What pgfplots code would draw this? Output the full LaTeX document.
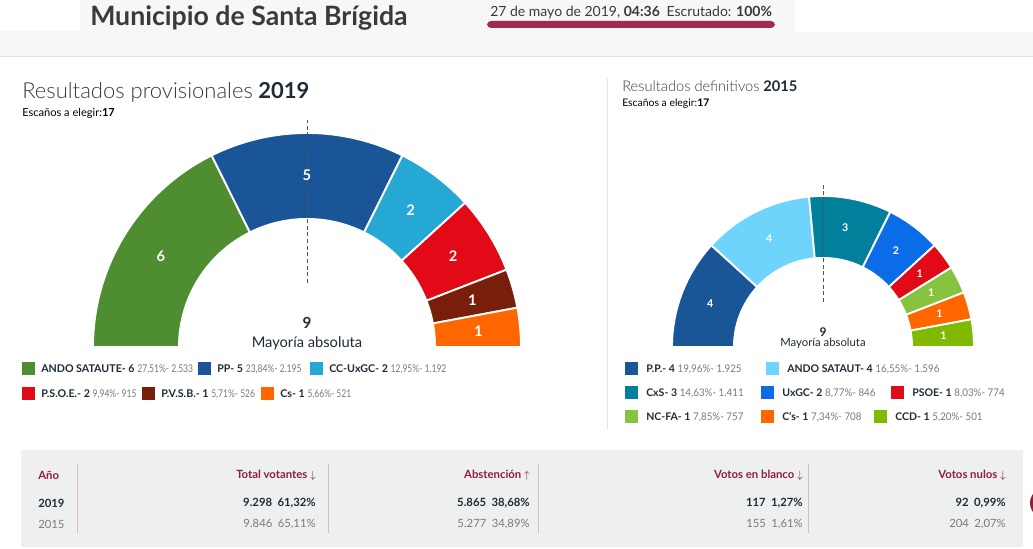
\documentclass[border=0pt]{standalone}
\usepackage{pgfplots}
\pgfplotsset{compat=1.18}
\usepackage{fontspec}
\setmainfont{Lato}
\newfontfamily\lightfont{Lato Light}

\definecolor{hdrbg}{HTML}{F7F7F7}
\definecolor{titlecol}{HTML}{3A3A3A}
\definecolor{barred}{HTML}{A32A4E}
\definecolor{maroon}{HTML}{8E1F3E}
\definecolor{navy}{HTML}{1E2B38}
\definecolor{leggray}{HTML}{7A7A7A}
\definecolor{tblbg}{HTML}{EEF0EF}
\definecolor{sepcol}{HTML}{D9B9C2}
\definecolor{cAndo}{HTML}{4E8E31}
\definecolor{cPP}{HTML}{1A5597}
\definecolor{cCC}{HTML}{25A8D3}
\definecolor{cPSOE}{HTML}{E30A17}
\definecolor{cPVSB}{HTML}{7A1E0C}
\definecolor{cCs}{HTML}{FF6600}
\definecolor{cAndoB}{HTML}{6FD4FB}
\definecolor{cCxS}{HTML}{00809A}
\definecolor{cUxGC}{HTML}{0A6CE6}
\definecolor{cNC}{HTML}{86C440}
\definecolor{cCCD}{HTML}{7FBA00}

\newcommand\fs[1]{\fontsize{#1}{#1}\selectfont}
% seat sector: start seat, end seat, colour (17 seats over 180 degrees)
\newcommand\sector[3]{%
  \addplot[fill=#3, draw=white, line width=1.4pt, domain=#1:#2, samples=50, variable=\s]
    ({\R*cos(180-\s*180/17)},{\R*sin(180-\s*180/17)}) -- (axis cs:0,0) -- cycle;}
\newcommand\hole{%
  \addplot[fill=white, draw=none, domain=0:17, samples=90, variable=\s]
    ({\r*cos(180-\s*180/17)},{\r*sin(180-\s*180/17)}) -- cycle;}
\newcommand\legL[5]{%
  \fill[#1] (#2,#3-6.5) rectangle (#2+13,#3+6.5);
  \node[anchor=west, inner sep=0, font=\fs{8}] at (#2+19,#3) {{\color{navy}\bfseries #4} {\color{leggray}\scalebox{0.8}[1]{#5}}};}
\newcommand\legR[5]{%
  \fill[#1] (#2,#3-6.5) rectangle (#2+13,#3+6.5);
  \node[anchor=west, inner sep=0, font=\fs{7.9}] at (#2+21,#3) {{\color{navy}\bfseries #4} {\color{leggray}\scalebox{0.93}[1]{#5}}};}

\begin{document}
\begin{tikzpicture}[x=0.75pt, y=0.75pt]
\useasboundingbox (0,0) rectangle (1033,549);
\fill[white] (0,0) rectangle (1033,549);
% header
\fill[hdrbg] (0,492) rectangle (1033,549);
\fill[white] (0,518) rectangle (80,549);
\fill[white] (795,517) rectangle (1033,549);
\draw[line width=0.75pt, black!12] (0,492) -- (1033,492);
\node[anchor=base west, inner sep=0, text=titlecol, font=\fs{20}\bfseries] at (90,523) {Municipio de Santa Brígida};
\node[anchor=base west, inner sep=0, text=titlecol, font=\fs{10.5}] at (490,532) {27 de mayo de 2019, \textbf{04:36}\hspace{5pt}Escrutado: \textbf{100\%}};
\fill[barred, rounded corners=3pt] (487,521) rectangle (775,528);
% divider
\draw[line width=0.75pt, black!10] (607,119) -- (607,471);

% ---------- 2019 ----------
\node[anchor=base west, inner sep=0, text=titlecol, font=\fs{16.5}\lightfont] at (22,450) {Resultados provisionales};
\node[anchor=base west, inner sep=0, text=navy, font=\fs{16.5}\bfseries] at (258,450) {2019};
\node[anchor=base west, inner sep=0, text=black, font=\fs{8.3}] at (22,432) {Escaños a elegir:\textbf{17}};

\def\R{214}\def\r{129}
\begin{axis}[at={(65.25pt,148.5pt)}, anchor=south west, x=0.75pt, y=0.75pt,
  xmin=-220, xmax=220, ymin=-4, ymax=230, hide axis, clip=false]
\sector{0}{6}{cAndo}
\sector{6}{11}{cPP}
\sector{11}{13}{cCC}
\sector{13}{15}{cPSOE}
\sector{15}{16}{cPVSB}
\sector{16}{17}{cCs}
\hole
\draw[navy!80, line width=0.7pt, dash pattern=on 3pt off 2pt] (axis cs:0,64) -- (axis cs:0,227);
\node[text=white, font=\fs{11}\bfseries] at (axis cs:-146.2,90.5) {6};
\node[text=white, font=\fs{11}\bfseries] at (axis cs:0,172) {5};
\node[text=white, font=\fs{11}\bfseries] at (axis cs:103.6,137.3) {2};
\node[text=white, font=\fs{11}\bfseries] at (axis cs:146.2,90.5) {2};
\node[text=white, font=\fs{11}\bfseries] at (axis cs:165.4,47.1) {1};
\node[text=white, font=\fs{11}\bfseries] at (axis cs:171.3,15.9) {1};
\end{axis}
\node[text=navy, font=\fs{11.5}\bfseries] at (307,226) {9};
\node[text=navy, font=\fs{11}] at (307,206) {Mayoría absoluta};

\legL{cAndo}{22}{180}{ANDO SATAUTE- 6}{27,51\%- 2.533}
\legL{cPP}{198}{180}{PP- 5}{23,84\%- 2.195}
\legL{cCC}{310}{180}{CC-UxGC- 2}{12,95\%- 1.192}
\legL{cPSOE}{22}{155}{P.S.O.E.- 2}{9,94\%- 915}
\legL{cPVSB}{142}{155}{P.V.S.B.- 1}{5,71\%- 526}
\legL{cCs}{261}{155}{Cs- 1}{5,66\%- 521}

% ---------- 2015 ----------
\node[anchor=base west, inner sep=0, text=titlecol, font=\fs{11}\lightfont] at (622,457) {Resultados definitivos};
\node[anchor=base west, inner sep=0, text=navy, font=\fs{11}\bfseries] at (763,457) {2015};
\node[anchor=base west, inner sep=0, text=black, font=\fs{7.8}] at (622,442) {Escaños a elegir:\textbf{17}};

\def\R{151}\def\r{90}
\begin{axis}[at={(497.25pt,148.5pt)}, anchor=south west, x=0.75pt, y=0.75pt,
  xmin=-160, xmax=160, ymin=-4, ymax=170, hide axis, clip=false]
\sector{0}{4}{cPP}
\sector{4}{8}{cAndoB}
\sector{8}{11}{cCxS}
\sector{11}{13}{cUxGC}
\sector{13}{14}{cPSOE}
\sector{14}{15}{cNC}
\sector{15}{16}{cCs}
\sector{16}{17}{cCCD}
\hole
\draw[navy!80, line width=0.7pt, dash pattern=on 3pt off 2pt] (axis cs:0,45) -- (axis cs:0,164);
\node[text=white, font=\fs{8}\bfseries] at (axis cs:-112.8,43.7) {4};
\node[text=white, font=\fs{8}\bfseries] at (axis cs:-53.9,108.3) {4};
\node[text=white, font=\fs{8}\bfseries] at (axis cs:22.2,118.9) {3};
\node[text=white, font=\fs{8}\bfseries] at (axis cs:72.9,96.6) {2};
\node[text=white, font=\fs{8}\bfseries] at (axis cs:96.6,72.9) {1};
\node[text=white, font=\fs{8}\bfseries] at (axis cs:108.3,53.9) {1};
\node[text=white, font=\fs{8}\bfseries] at (axis cs:116.4,33.1) {1};
\node[text=white, font=\fs{8}\bfseries] at (axis cs:120.5,11.2) {1};
\end{axis}
\node[text=navy, font=\fs{9}\bfseries] at (823,217) {9};
\node[text=navy, font=\fs{8.5}] at (823,205.5) {Mayoría absoluta};

\legR{cPP}{625}{180}{P.P.- 4}{19,96\%- 1.925}
\legR{cAndoB}{766}{180}{ANDO SATAUT- 4}{16,55\%- 1.596}
\legR{cCxS}{625}{156}{CxS- 3}{14,63\%- 1.411}
\legR{cUxGC}{761}{156}{UxGC- 2}{8,77\%- 846}
\legR{cPSOE}{891}{156}{PSOE- 1}{8,03\%- 774}
\legR{cNC}{625}{132}{NC-FA- 1}{7,85\%- 757}
\legR{cCs}{761}{132}{C's- 1}{7,34\%- 708}
\legR{cCCD}{874}{132}{CCD- 1}{5,20\%- 501}

% ---------- table ----------
\fill[tblbg] (21,2) rectangle (1023,99);
\foreach \xx in {77,328,538,808} \draw[sepcol, line width=0.75pt] (\xx,16) -- (\xx,85);
\begin{scope}[every node/.style={inner sep=0, font=\fs{8.5}}]
\node[anchor=west, text=maroon, font=\fs{8.5}\bfseries] at (38,74) {Año};
\node[anchor=east, text=maroon, font=\fs{8.5}\bfseries] at (316,74) {Total votantes $\downarrow$};
\node[anchor=east, text=maroon, font=\fs{8.5}\bfseries] at (530,74) {Abstención $\uparrow$};
\node[anchor=east, text=maroon, font=\fs{8.5}\bfseries] at (803,74) {Votos en blanco $\downarrow$};
\node[anchor=east, text=maroon, font=\fs{8.5}\bfseries] at (1006,74) {Votos nulos $\downarrow$};
\node[anchor=west, text=navy, font=\fs{8.5}\bfseries] at (38,46) {2019};
\node[anchor=east, text=navy, font=\fs{8.5}\bfseries] at (316,46) {9.298\hspace{4pt}61,32\%};
\node[anchor=east, text=navy, font=\fs{8.5}\bfseries] at (530,46) {5.865\hspace{4pt}38,68\%};
\node[anchor=east, text=navy, font=\fs{8.5}\bfseries] at (803,46) {117\hspace{4pt}1,27\%};
\node[anchor=east, text=navy, font=\fs{8.5}\bfseries] at (1006,46) {92\hspace{4pt}0,99\%};
\node[anchor=west, text=leggray] at (38,25) {2015};
\node[anchor=east, text=leggray] at (316,25) {9.846\hspace{4pt}65,11\%};
\node[anchor=east, text=leggray] at (530,25) {5.277\hspace{4pt}34,89\%};
\node[anchor=east, text=leggray] at (803,25) {155\hspace{4pt}1,61\%};
\node[anchor=east, text=leggray] at (1006,25) {204\hspace{4pt}2,07\%};
\end{scope}
\fill[maroon] (1045,46) circle (15);
\end{tikzpicture}
\end{document}
